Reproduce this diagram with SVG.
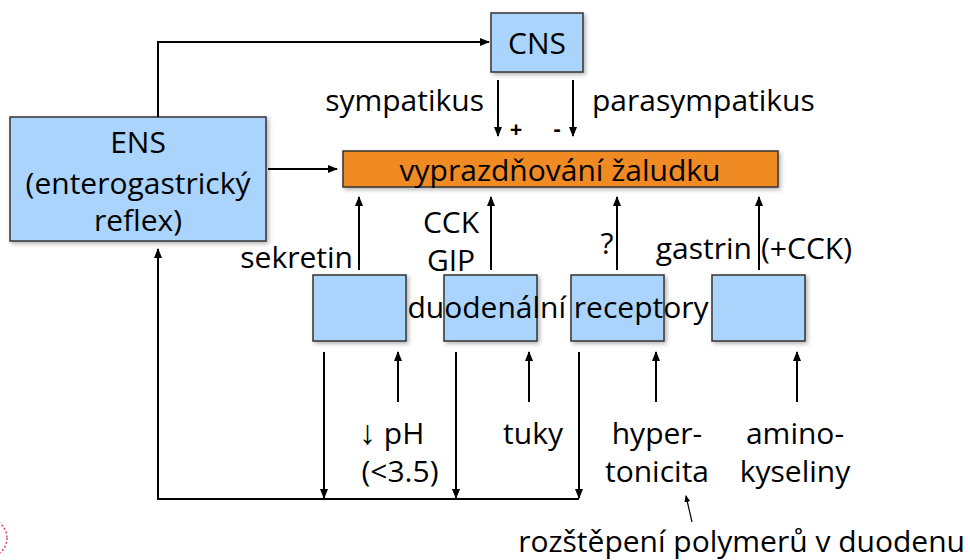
<svg xmlns="http://www.w3.org/2000/svg" width="970" height="560" viewBox="0 0 970 560">
<defs>
<marker id="ah" markerWidth="10" markerHeight="10" refX="9" refY="5" orient="auto" markerUnits="userSpaceOnUse">
<path d="M0,1 L10,5 L0,9 Z" fill="#000"/>
</marker>
<marker id="ahs" markerWidth="7" markerHeight="7" refX="6" refY="3.5" orient="auto" markerUnits="userSpaceOnUse">
<path d="M0,0.5 L7,3.5 L0,6.5 Z" fill="#000"/>
</marker>
<filter id="sh" x="-10%" y="-10%" width="130%" height="130%">
<feDropShadow dx="2" dy="2" stdDeviation="2" flood-color="#000" flood-opacity="0.3"/>
</filter>
</defs>
<style>
text{font-family:"Open Sans","Liberation Sans",sans-serif;font-size:30px;fill:#000}
.blue{fill:#aad4fb;stroke:#333;stroke-width:1.5}
.orange{fill:#f08a24;stroke:#333;stroke-width:1.5}
.c line,.c polyline{stroke:#000;stroke-width:2;fill:none}
.mid{text-anchor:middle}
.end{text-anchor:end}
</style>
<rect width="970" height="560" fill="#fff"/>
<circle cx="-12" cy="538" r="19" fill="none" stroke="#d9455f" stroke-width="1.5" stroke-dasharray="2 2"/>

<g id="cns" filter="url(#sh)">
<rect class="blue" x="491" y="13" width="92" height="59"/>
</g>
<text class="mid" x="537" y="54">CNS</text>

<g id="ens" filter="url(#sh)">
<rect class="blue" x="10" y="117" width="256" height="124"/>
</g>
<text class="mid" x="138" y="153">ENS</text>
<text class="mid" x="138" y="194">(enterogastrický</text>
<text class="mid" x="138" y="231">reflex)</text>

<g id="vyprazdnovani" filter="url(#sh)">
<rect class="orange" x="343" y="151" width="435" height="36"/>
</g>
<text class="mid" x="560" y="181">vyprazdňování žaludku</text>

<g id="box1" filter="url(#sh)"><rect class="blue" x="313" y="275" width="93" height="66"/></g>
<g id="box2" filter="url(#sh)"><rect class="blue" x="444" y="275" width="93" height="66"/></g>
<g id="box3" filter="url(#sh)"><rect class="blue" x="571" y="275" width="93" height="66"/></g>
<g id="box4" filter="url(#sh)"><rect class="blue" x="712" y="275" width="93" height="66"/></g>
<text class="mid" x="558" y="318">duodenální receptory</text>

<g id="connectors" class="c">
<polyline points="158,117 158,42 489,42" marker-end="url(#ah)"/>
<line x1="498" y1="80" x2="498" y2="136" marker-end="url(#ah)"/>
<line x1="573" y1="80" x2="573" y2="136" marker-end="url(#ah)"/>
<line x1="268" y1="169" x2="337" y2="169" marker-end="url(#ah)"/>
<line x1="359" y1="270" x2="359" y2="197" marker-end="url(#ah)"/>
<line x1="491" y1="270" x2="491" y2="197" marker-end="url(#ah)"/>
<line x1="617" y1="270" x2="617" y2="197" marker-end="url(#ah)"/>
<line x1="759" y1="270" x2="759" y2="197" marker-end="url(#ah)"/>
<line x1="324" y1="352" x2="324" y2="498" marker-end="url(#ah)"/>
<line x1="456" y1="352" x2="456" y2="498" marker-end="url(#ah)"/>
<line x1="579" y1="352" x2="579" y2="498" marker-end="url(#ah)"/>
<polyline points="579,499 158,499 158,249" marker-end="url(#ah)"/>
<line x1="398" y1="402" x2="398" y2="352" marker-end="url(#ah)"/>
<line x1="529" y1="402" x2="529" y2="352" marker-end="url(#ah)"/>
<line x1="656" y1="402" x2="656" y2="352" marker-end="url(#ah)"/>
<line x1="797" y1="402" x2="797" y2="352" marker-end="url(#ah)"/>
<line x1="692" y1="522" x2="686" y2="496" style="stroke-width:1.2" marker-end="url(#ahs)"/>
</g>

<text class="end" x="484" y="111">sympatikus</text>
<text x="592" y="111">parasympatikus</text>
<text class="mid" x="516" y="137" style="font-size:22px;font-weight:bold">+</text>
<text class="mid" x="557" y="136" style="font-size:22px;font-weight:bold">-</text>
<text class="end" x="353" y="268">sekretin</text>
<text class="mid" x="451" y="233">CCK</text>
<text class="mid" x="451" y="271">GIP</text>
<text class="mid" x="607" y="254">?</text>
<text class="end" x="752" y="259">gastrin</text>
<text x="761" y="259">(+CCK)</text>
<text x="359" y="444"><tspan style="font-size:34px">↓</tspan> pH</text>
<text class="mid" x="400" y="482">(&lt;3.5)</text>
<text class="mid" x="533" y="444">tuky</text>
<text class="mid" x="657" y="444">hyper-</text>
<text class="mid" x="657" y="482">tonicita</text>
<text class="mid" x="795" y="444">amino-</text>
<text class="mid" x="795" y="482">kyseliny</text>
<text class="end" x="965" y="552">rozštěpení polymerů v duodenu</text>
</svg>
